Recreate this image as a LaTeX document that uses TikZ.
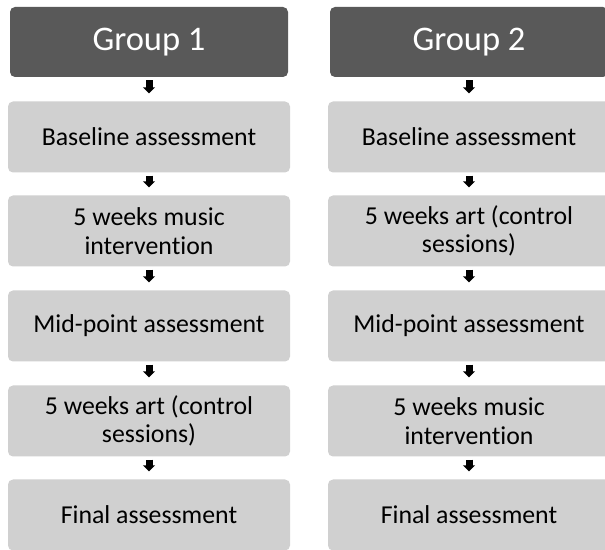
\documentclass[tikz,border=0pt]{standalone}
\usepackage{fontspec}
\setmainfont[RawFeature=-liga]{Carlito}
\usetikzlibrary{arrows.meta}
\definecolor{headgray}{HTML}{595959}
\definecolor{boxgray}{HTML}{D0D0D0}
\tikzset{
  headbox/.style={fill=headgray, rounded corners=5pt, minimum width=278pt, minimum height=70pt,
    text=white, font=\fontsize{34.5}{40}\selectfont, inner sep=0pt},
  stepbox/.style={fill=boxgray, rounded corners=5pt, minimum width=282pt, minimum height=71pt,
    text=black, font=\fontsize{25.8}{28.5}\selectfont, align=center, inner sep=0pt},
  flowarrow/.style={line width=7pt, -{Triangle[width=12pt,length=6pt]}, black, shorten <=3pt, shorten >=8pt}
}
\begin{document}
\begin{tikzpicture}[x=1pt,y=1pt]
\useasboundingbox (0,0) rectangle (605,549);
\begin{scope}
\clip (0,0) rectangle (605,549);
% Group 1
\node[headbox] (h1) at (149,507) {Group 1};
\node[stepbox] (a1) at (149,412) {Baseline assessment};
\node[stepbox] (b1) at (149,318) {5 weeks music\\intervention};
\node[stepbox] (c1) at (149,223) {Mid-point assessment};
\node[stepbox] (d1) at (149,128) {5 weeks art (control\\sessions)};
\node[stepbox] (e1) at (149,34) {Final assessment};
% Group 2
\node[headbox] (h2) at (469,507) {Group 2};
\node[stepbox] (a2) at (469,412) {Baseline assessment};
\node[stepbox] (b2) at (469,318) {5 weeks art (control\\sessions)};
\node[stepbox] (c2) at (469,223) {Mid-point assessment};
\node[stepbox] (d2) at (469,128) {5 weeks music\\intervention};
\node[stepbox] (e2) at (469,34) {Final assessment};
\end{scope}
\foreach \g in {1,2}{
  \draw[flowarrow] (h\g.south) -- (a\g.north);
  \draw[flowarrow] (a\g.south) -- (b\g.north);
  \draw[flowarrow] (b\g.south) -- (c\g.north);
  \draw[flowarrow] (c\g.south) -- (d\g.north);
  \draw[flowarrow] (d\g.south) -- (e\g.north);
}
\end{tikzpicture}
\end{document}
